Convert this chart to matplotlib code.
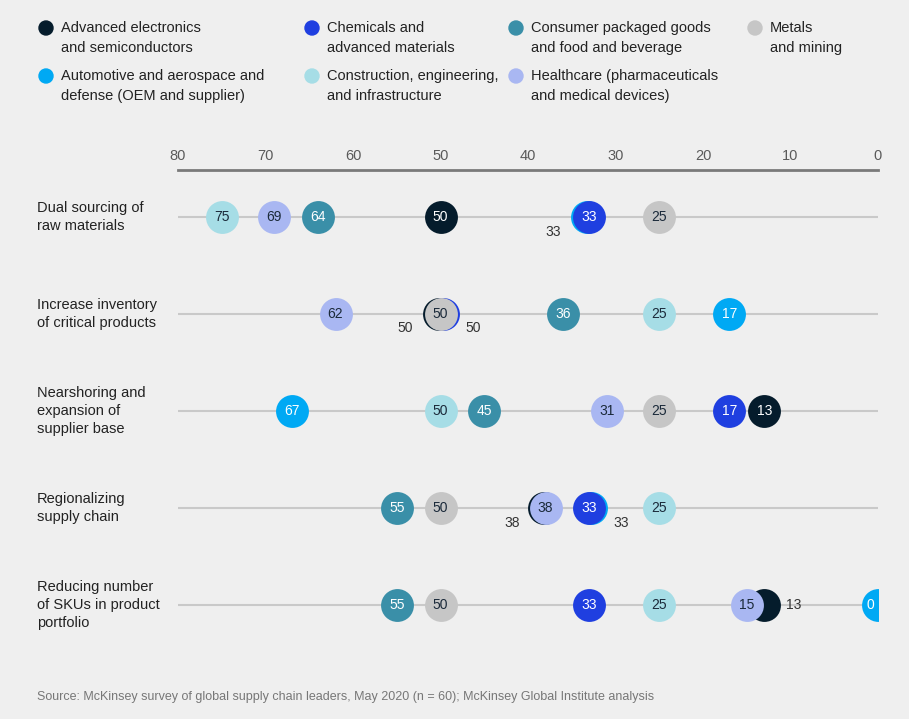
import matplotlib.pyplot as plt
from matplotlib.patches import Ellipse
from matplotlib.transforms import offset_copy

plt.rcParams['font.family'] = ['Liberation Sans Narrow', 'Liberation Sans', 'DejaVu Sans']

# industries (legend order) and their colours
industries = [
    "Advanced electronics\nand semiconductors",
    "Automotive and aerospace and\ndefense (OEM and supplier)",
    "Chemicals and\nadvanced materials",
    "Construction, engineering,\nand infrastructure",
    "Consumer packaged goods\nand food and beverage",
    "Healthcare (pharmaceuticals\nand medical devices)",
    "Metals\nand mining",
]
keys = ["adv", "auto", "chem", "const", "cpg", "health", "metals"]
colors = {"adv": "#051c2c", "auto": "#00a9f4", "chem": "#1f3fe0", "const": "#a6dde6",
          "cpg": "#3a8fa8", "health": "#a9b7f2", "metals": "#c6c6c6"}
dark_fill = {"adv", "auto", "chem", "cpg"}

measures = [
    "Dual sourcing of\nraw materials",
    "Increase inventory\nof critical products",
    "Nearshoring and\nexpansion of\nsupplier base",
    "Regionalizing\nsupply chain",
    "Reducing number\nof SKUs in product\nportfolio",
]

# share of respondents (%) per measure and industry
dual_sourcing = {"const": 75, "health": 69, "cpg": 64, "adv": 50, "auto": 33, "chem": 33, "metals": 25}
inventory = {"health": 62, "adv": 50, "metals": 50, "chem": 50, "cpg": 36, "const": 25, "auto": 17}
nearshoring = {"auto": 67, "const": 50, "cpg": 45, "health": 31, "metals": 25, "chem": 17, "adv": 13}
regionalizing = {"cpg": 55, "metals": 50, "adv": 38, "health": 38, "chem": 33, "auto": 33, "const": 25}
reducing_skus = {"cpg": 55, "metals": 50, "chem": 33, "const": 25, "health": 15, "adv": 13, "auto": 0}
rows = [dual_sourcing, inventory, nearshoring, regionalizing, reducing_skus]

# dots hidden behind others: (row, industry, dot shift px, label dx px, label dy px)
hidden = [
    (0, "auto", -2, -36, -15),
    (1, "adv", -2, -35, -14),
    (1, "chem", 2, 33, -14),
    (3, "adv", -2, -33, -15),
    (3, "auto", 2, 32, -15),
    (4, "adv", 0, 29, 0),
]

ticks = [80, 70, 60, 50, 40, 30, 20, 10, 0]

W, H = 909, 719
fig = plt.figure(figsize=(W / 100, H / 100), dpi=100)
fig.patch.set_facecolor("#efefef")

ax = fig.add_axes([178 / W, 1 - 650 / H, 700 / W, 480 / H])
ax.set_facecolor("none")
ax.set_xlim(80, 0)
ax.set_ylim(4.464, -0.485)
for s in ax.spines.values():
    s.set_visible(False)
ax.set_yticks([])
ax.set_xticks(ticks)
ax.xaxis.tick_top()
ax.tick_params(axis="x", length=0, pad=5, labelsize=10.5, labelcolor="#5a5a5a")
ax.axhline(-0.485, color="#7a7a7a", lw=2, clip_on=False)

S = 560
for i, row in enumerate(rows):
    ax.plot([80, 0], [i, i], color="#c9c9c9", lw=1.5, zorder=1)
    hid = {h[1]: h for h in hidden if h[0] == i}
    for k in sorted(row, key=lambda k: -row[k]):
        v = row[k]
        if k in hid:
            _, _, shift, ldx, ldy = hid[k]
            tr = offset_copy(ax.transData, fig=fig, x=shift, y=0, units="dots")
            ax.scatter([v], [i], s=S, color=colors[k], transform=tr, zorder=2, linewidths=0)
            tl = offset_copy(ax.transData, fig=fig, x=ldx, y=ldy, units="dots")
            ax.text(v, i, str(v), transform=tl, ha="center", va="center",
                    fontsize=10, color="#333333", zorder=5)
        else:
            ax.scatter([v], [i], s=S, color=colors[k], zorder=3, linewidths=0)
            # the dot at 0 is cut by the plot edge, so its label sits left of centre
            tl = offset_copy(ax.transData, fig=fig, x=-8 if v == 0 else 0, y=0, units="dots")
            ax.text(v, i, str(v), transform=tl, ha="center", va="center", fontsize=10,
                    zorder=4, color="white" if k in dark_fill else "#1b2a3a")

# row labels
for i, m in enumerate(measures):
    y = 1 - (217 + i * 97) / H
    fig.text(37 / W, y, m, ha="left", va="center", fontsize=10.5, color="#222222",
             linespacing=1.4)

# legend
leg_pos = [(46, 28), (46, 76), (312, 28), (312, 76), (516, 28), (516, 76), (755, 28)]
for (lx, ly), k, name in zip(leg_pos, keys, industries):
    fig.add_artist(Ellipse((lx / W, 1 - ly / H), 14 / W, 14 / H,
                           transform=fig.transFigure, color=colors[k]))
    fig.text((lx + 15) / W, 1 - (ly + 10) / H, name, ha="left", va="center", fontsize=10.5,
             color="#222222", linespacing=1.55)

fig.text(37 / W, 1 - 697 / H,
         "Source: McKinsey survey of global supply chain leaders, May 2020 (n = 60); "
         "McKinsey Global Institute analysis",
         ha="left", va="center", fontsize=9, color="#777777")

fig.savefig("out.png", dpi=100, facecolor=fig.get_facecolor())
